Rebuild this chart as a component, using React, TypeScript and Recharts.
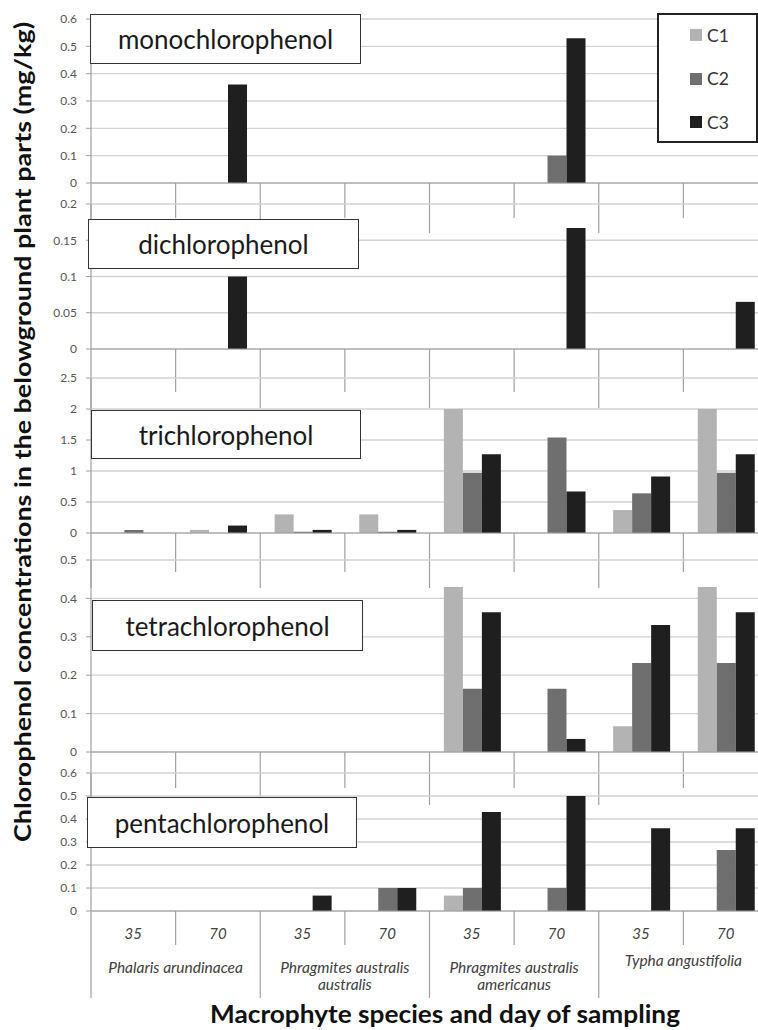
import React from "react";
import { BarChart, Bar, XAxis, YAxis, CartesianGrid, Legend } from "recharts";

// categories: day of sampling, grouped by macrophyte species
const days = ["35", "70", "35", "70", "35", "70", "35", "70"];
const species = [
  ["Phalaris arundinacea"],
  ["Phragmites australis", "australis"],
  ["Phragmites australis", "americanus"],
  ["Typha angustifolia"],
];
const seriesNames = ["C1", "C2", "C3"];
const compounds = [
  "monochlorophenol",
  "dichlorophenol",
  "trichlorophenol",
  "tetrachlorophenol",
  "pentachlorophenol",
];

// mg/kg per compound, series C1..C3
const monoC1 = [0, 0, 0, 0, 0, 0, 0, 0];
const monoC2 = [0, 0, 0, 0, 0, 0.1, 0, 0];
const monoC3 = [0, 0.36, 0, 0, 0, 0.53, 0, 0];

const diC1 = [0, 0, 0, 0, 0, 0, 0, 0];
const diC2 = [0, 0, 0, 0, 0, 0, 0, 0];
const diC3 = [0, 0.1, 0, 0, 0, 0.167, 0, 0.065];

const triC1 = [0, 0.05, 0.3, 0.3, 2.0, 0, 0.37, 2.0];
const triC2 = [0.05, 0, 0.02, 0.02, 0.97, 1.54, 0.64, 0.97];
const triC3 = [0, 0.12, 0.05, 0.05, 1.27, 0.67, 0.91, 1.27];

const tetraC1 = [0, 0, 0, 0, 0.43, 0, 0.067, 0.43];
const tetraC2 = [0, 0, 0, 0, 0.165, 0.165, 0.232, 0.232];
const tetraC3 = [0, 0, 0, 0, 0.364, 0.034, 0.331, 0.364];

const pentaC1 = [0, 0, 0, 0, 0.067, 0, 0, 0];
const pentaC2 = [0, 0, 0, 0.1, 0.1, 0.1, 0, 0.265];
const pentaC3 = [0, 0, 0.067, 0.1, 0.43, 0.5, 0.36, 0.36];

const monoTicks = [0, 0.1, 0.2, 0.3, 0.4, 0.5, 0.6];
const diTicks = [0, 0.05, 0.1, 0.15, 0.2];
const triTicks = [0, 0.5, 1, 1.5, 2, 2.5];
const tetraTicks = [0, 0.1, 0.2, 0.3, 0.4, 0.5];
const pentaTicks = [0, 0.1, 0.2, 0.3, 0.4, 0.5, 0.6];

const yTitle = "Chlorophenol concentrations in the belowground plant parts (mg/kg)";
const xTitle = "Macrophyte species and day of sampling";

const FONT = "Lato, 'Open Sans', sans-serif";
const COLORS = ["#b3b3b3", "#6f6f6f", "#1f1f1f"];
const AXIS = "#a0a0a0";
const GRID = "#d2d2d2";

const CHART_W = 770;
const Y_AXIS_W = 91;
const MARGIN_R = 2;
const PLOT_W = CHART_W - Y_AXIS_W - MARGIN_R;
const BAND = PLOT_W / days.length;
const TOP_PAD = 8;

const panels = [
  { c: [monoC1, monoC2, monoC3], ticks: monoTicks, plotTop: 19, plotBottom: 183, shortLen: 35, longLen: 50, axisH: 70, box: { left: 90, top: 14, width: 271, height: 50 } },
  { c: [diC1, diC2, diC3], ticks: diTicks, plotTop: 204, plotBottom: 349, shortLen: 43, longLen: 59, axisH: 70, box: { left: 88, top: 219, width: 271, height: 50 } },
  { c: [triC1, triC2, triC3], ticks: triTicks, plotTop: 378, plotBottom: 533, shortLen: 39, longLen: 55, axisH: 70, box: { left: 91, top: 410, width: 270, height: 49 } },
  { c: [tetraC1, tetraC2, tetraC3], ticks: tetraTicks, plotTop: 560, plotBottom: 752, shortLen: 36, longLen: 53, axisH: 70, box: { left: 92, top: 600, width: 271, height: 51 } },
  { c: [pentaC1, pentaC2, pentaC3], ticks: pentaTicks, plotTop: 773, plotBottom: 911, shortLen: 34, longLen: 87, axisH: 100, box: { left: 87, top: 797, width: 270, height: 51 } },
];

const speciesDy = [62, 62, 62, 55];

function makeTick(shortLen: number, longLen: number, withLabels: boolean) {
  return (props: any) => {
    const { x, y, index } = props;
    const left = x - BAND / 2;
    const groupStart = index % 2 === 0;
    const g = Math.floor(index / 2);
    return (
      <g>
        <line x1={left} x2={left} y1={y} y2={y + (groupStart ? longLen : shortLen)} stroke={AXIS} strokeWidth={1.2} />
        {index === days.length - 1 && (
          <line x1={x + BAND / 2} x2={x + BAND / 2} y1={y} y2={y + longLen} stroke={AXIS} strokeWidth={1.2} />
        )}
        {withLabels && (
          <text x={x} y={y + 28} textAnchor="middle" fontSize={15} fontStyle="italic" fill="#404040" fontFamily={FONT}>
            {days[index]}
          </text>
        )}
        {withLabels && groupStart && (
          <text x={x + BAND / 2} y={y + speciesDy[g]} textAnchor="middle" fontSize={15.5} fontStyle="italic" fill="#404040" fontFamily={FONT}>
            {species[g].map((line, i) => (
              <tspan key={i} x={x + BAND / 2} dy={i === 0 ? 0 : 17}>
                {line}
              </tspan>
            ))}
          </text>
        )}
      </g>
    );
  };
}

const renderLegend = (props: any) => {
  const { payload } = props;
  return (
    <div style={{ position: "relative", width: 101, height: 130, border: "2px solid #222", background: "#fff", boxSizing: "border-box" }}>
      {(payload || []).map((entry: any, i: number) => (
        <div key={entry.value} style={{ position: "absolute", left: 31, top: 10 + i * 43.5, height: 20, display: "flex", alignItems: "center" }}>
          <span style={{ display: "inline-block", width: 12, height: 12, background: entry.color, marginRight: 5 }} />
          <span style={{ fontSize: 17.5, color: "#333", fontFamily: FONT }}>{entry.value}</span>
        </div>
      ))}
    </div>
  );
};

export default function App() {
  return (
    <div style={{ position: "fixed", left: 0, top: 0, width: 758, height: 1030, overflow: "hidden", background: "#fff" }}>
      {panels.map((p, pi) => {
        const rows = days.map((d, i) => ({ day: d, C1: p.c[0][i], C2: p.c[1][i], C3: p.c[2][i] }));
        const plotH = p.plotBottom - p.plotTop;
        const height = TOP_PAD + plotH + p.axisH;
        const max = p.ticks[p.ticks.length - 1];
        return (
          <div key={pi} style={{ position: "absolute", left: 0, top: p.plotTop - TOP_PAD }}>
            <BarChart
              width={CHART_W}
              height={height}
              data={rows}
              margin={{ top: TOP_PAD, right: MARGIN_R, left: 0, bottom: 0 }}
              barCategoryGap="17%"
              barGap={0}
            >
              <CartesianGrid vertical={false} stroke={GRID} strokeWidth={1.3} />
              <XAxis
                dataKey="day"
                height={p.axisH}
                interval={0}
                tickLine={false}
                tickSize={0}
                tickMargin={0}
                axisLine={{ stroke: AXIS, strokeWidth: 1.2 }}
                tick={makeTick(p.shortLen, p.longLen, pi === panels.length - 1)}
              />
              <YAxis
                type="number"
                width={Y_AXIS_W}
                domain={[0, max]}
                ticks={p.ticks}
                interval={0}
                tickSize={5}
                tickMargin={9}
                axisLine={{ stroke: AXIS, strokeWidth: 1.2 }}
                tickLine={{ stroke: AXIS }}
                tick={{ fontSize: 12, fill: "#555", fontFamily: FONT }}
              />
              {pi === 0 && (
                <Legend
                  layout="vertical"
                  align="center"
                  verticalAlign="middle"
                  content={renderLegend}
                  wrapperStyle={{ left: 657, top: 13 - (p.plotTop - TOP_PAD), width: 101, height: 130 }}
                />
              )}
              {seriesNames.map((s, si) => (
                <Bar key={s} dataKey={s} name={s} fill={COLORS[si]} isAnimationActive={false} />
              ))}
            </BarChart>
          </div>
        );
      })}

      {panels.map((p, pi) => (
        <div
          key={"box" + pi}
          style={{
            position: "absolute",
            left: p.box.left,
            top: p.box.top,
            width: p.box.width,
            height: p.box.height,
            boxSizing: "border-box",
            border: "1.5px solid #333",
            background: "#fff",
            display: "flex",
            alignItems: "center",
            justifyContent: "center",
            fontFamily: FONT,
            fontSize: 26,
            color: "#1a1a1a",
          }}
        >
          {compounds[pi]}
        </div>
      ))}

      <svg width={758} height={1030} style={{ position: "absolute", left: 0, top: 0, pointerEvents: "none" }}>
        <text
          transform="translate(31,432) rotate(-90)"
          textAnchor="middle"
          fontFamily={FONT}
          fontWeight="bold"
          fontSize={22}
          fill="#111"
          textLength={820}
          lengthAdjust="spacingAndGlyphs"
        >
          {yTitle}
        </text>
        <text
          x={445}
          y={1023}
          textAnchor="middle"
          fontFamily={FONT}
          fontWeight="bold"
          fontSize={25}
          fill="#111"
          textLength={470}
          lengthAdjust="spacingAndGlyphs"
        >
          {xTitle}
        </text>
      </svg>
    </div>
  );
}
